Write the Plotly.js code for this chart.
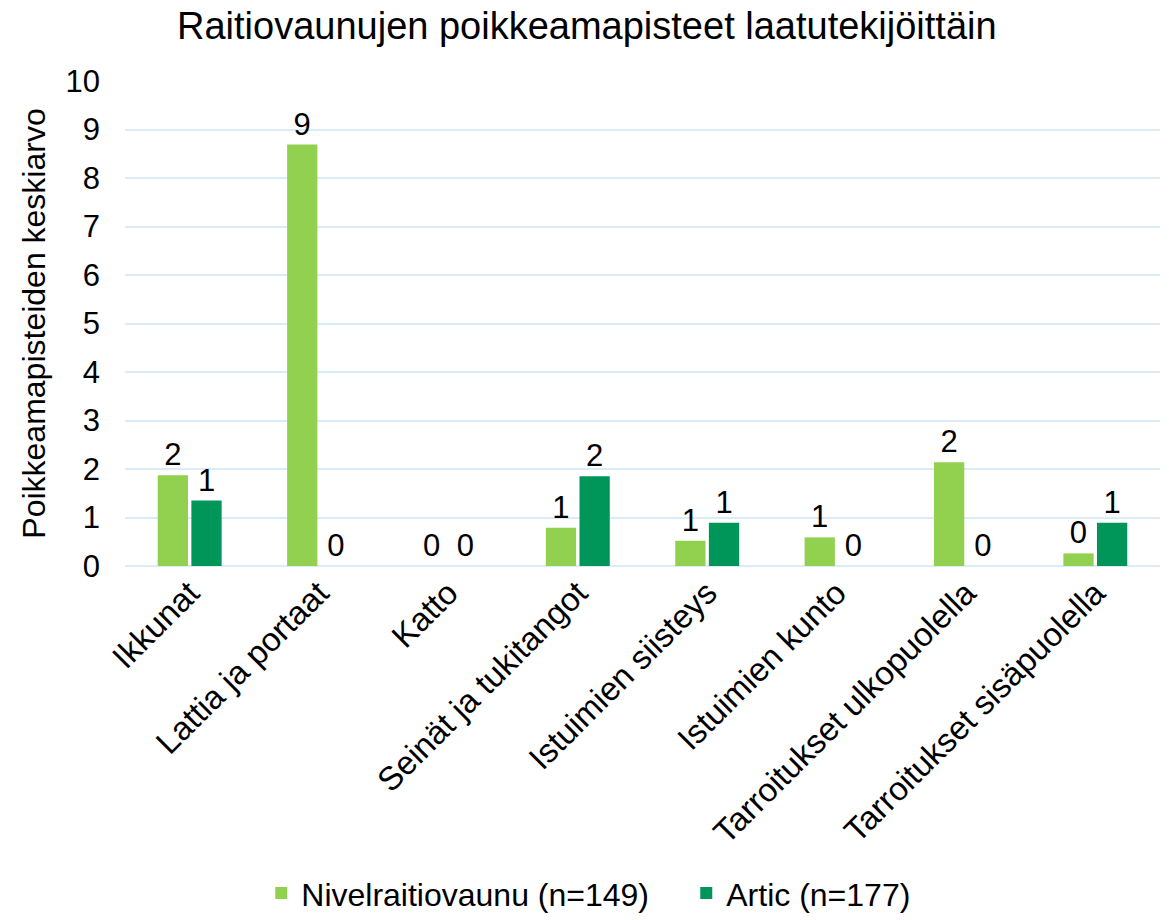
<!DOCTYPE html>
<html>
<head>
<meta charset="utf-8">
<script src="https://cdn.plot.ly/plotly-3.0.1.min.js"></script>
<style>html,body{margin:0;padding:0;background:#fff;}#chart{width:1169px;height:920px;}</style>
</head>
<body>
<div id="chart"></div>
<script>
const categories = ["Ikkunat", "Lattia ja portaat", "Katto", "Seinät ja tukitangot", "Istuimien siisteys", "Istuimien kunto", "Tarroitukset ulkopuolella", "Tarroitukset sisäpuolella"];
const nivelValues = [1.87, 8.69, 0, 0.79, 0.52, 0.59, 2.14, 0.26];
const articValues = [1.35, 0, 0, 1.85, 0.89, 0, 0, 0.89];
const seriesNames = ["Nivelraitiovaunu (n=149)", "Artic (n=177)"];
const yTicks = [0,1,2,3,4,5,6,7,8,9,10];

const fontFam = "Liberation Sans, Arial, sans-serif";
function mk(vals, name, color) {
  return {
    type: "bar", x: categories, y: vals, name: name,
    marker: {color: color},
    text: vals.map(v => String(Math.round(v))),
    textposition: "outside", cliponaxis: false,
    textfont: {family: fontFam, size: 31, color: "#000"},
    hoverinfo: "none"
  };
}
const data = [mk(nivelValues, seriesNames[0], "#92D050"), mk(articValues, seriesNames[1], "#00965A")];
const layout = {
  width: 1169, height: 920,
  margin: {l: 125, r: 9, t: 81, b: 354},
  paper_bgcolor: "#fff", plot_bgcolor: "#fff",
  font: {family: fontFam, size: 31, color: "#000"},
  title: {text: "Raitiovaunujen poikkeamapisteet laatutekijöittäin", font: {size: 38, color: "#000"}, x: 0.502, xref: "container", xanchor: "center", y: 0.972, yanchor: "middle"},
  barmode: "group", bargap: 0.48, bargroupgap: 0.1,
  xaxis: {tickangle: -45, tickfont: {size: 33}, showgrid: false, showline: false, zeroline: false, ticks: ""},
  yaxis: {range: [0, 10], tickvals: yTicks, showgrid: true, gridcolor: "#D9ECF8", gridwidth: 2, zeroline: true, zerolinecolor: "#D9ECF8", zerolinewidth: 2, showline: false, ticks: "", ticklabelstandoff: 24, tickfont: {size: 31},
    title: {text: "Poikkeamapisteiden keskiarvo", font: {size: 32}, standoff: 10}},
  showlegend: true,
  legend: {orientation: "h", xref: "container", yref: "container", x: 0.2235, xanchor: "left", y: 0.029, yanchor: "middle", font: {size: 32}, itemwidth: 30, entrywidth: 380, entrywidthmode: "pixels", tracegroupgap: 0}
};
Plotly.newPlot("chart", data, layout, {staticPlot: true});
</script>
</body>
</html>
